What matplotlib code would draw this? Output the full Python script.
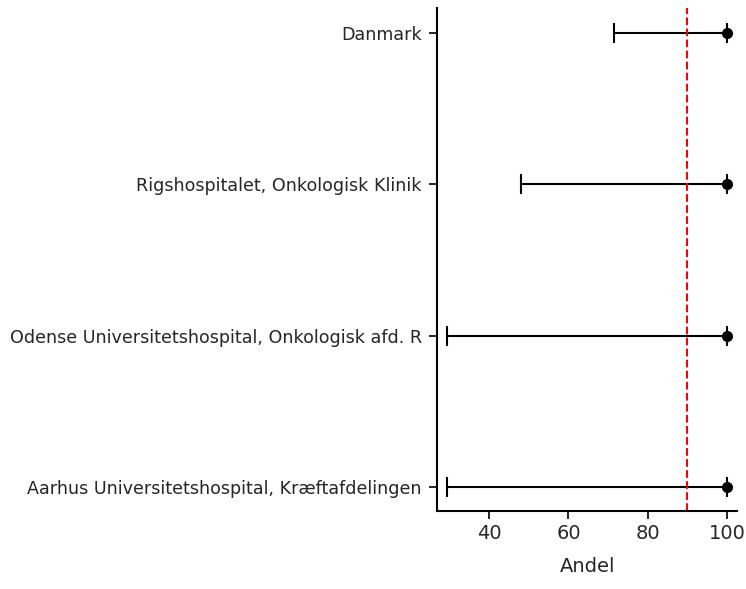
from matplotlib import pyplot as plt
import numpy as np

# data
names = [
    'Aarhus Universitetshospital, Kræftafdelingen',
    'Odense Universitetshospital, Onkologisk afd. R',
    'Rigshospitalet, Onkologisk Klinik',
    'Danmark',
]
andel = [100, 100, 100, 100]
lower = [29.3, 29.3, 48.0, 71.6]
upper = [100, 100, 100, 100]
target = 90


def main():
    fig = plt.figure(figsize=(7.46, 5.89), dpi=100)
    ax = fig.add_axes([0.586, 0.132, 0.402, 0.854])

    y = np.arange(len(names))
    est = np.array(andel)
    xerr = [est - np.array(lower), np.array(upper) - est]
    ax.errorbar(est, y, xerr=xerr, fmt='o', color='black', ecolor='black',
                markersize=7, capsize=7, capthick=1.5, elinewidth=1.5)

    ax.axvline(target, color='red', linestyle='--', linewidth=1.5)

    ax.set_yticks(y)
    ax.set_yticklabels(names, fontsize=12.6)
    ax.set_ylim(-0.16, 3.165)
    ax.set_xlim(26.9, 102.5)
    ax.set_xticks([40, 60, 80, 100])
    ax.tick_params(axis='x', labelsize=14, length=6, width=1.2, labelcolor='#262626')
    ax.tick_params(axis='y', length=6, width=1.2, pad=5, labelcolor='#262626')
    ax.set_xlabel('Andel', fontsize=14, labelpad=10, color='#262626')

    for s in ['top', 'right']:
        ax.spines[s].set_visible(False)
    for s in ['left', 'bottom']:
        ax.spines[s].set_linewidth(1.5)

    fig.savefig('out.png', dpi=100)


if __name__ == '__main__':
    main()
